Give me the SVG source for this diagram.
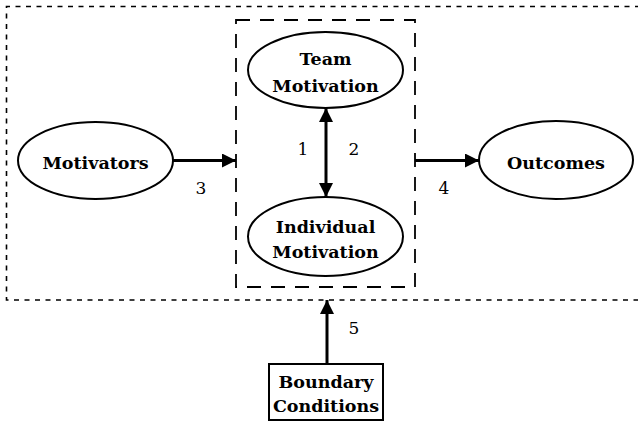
<svg xmlns="http://www.w3.org/2000/svg" width="638" height="422" viewBox="0 0 638 422">
<style>
.node{fill:#fff;stroke:#000;stroke-width:2}
.lbl{font-family:"DejaVu Serif","Liberation Serif",serif;font-weight:bold;font-size:17.5px;text-anchor:middle;fill:#000}
.num{font-family:"DejaVu Serif","Liberation Serif",serif;font-size:17px;text-anchor:middle;fill:#000}
.edge{stroke:#000;stroke-width:3;fill:none}
</style>
<defs>
<marker id="ah" viewBox="0 0 10 10" refX="10" refY="5" markerWidth="14" markerHeight="14" markerUnits="userSpaceOnUse" orient="auto-start-reverse">
<path d="M0,0 L10,5 L0,10 Z" fill="#000"/>
</marker>
</defs>
<rect width="638" height="422" fill="#fff"/>
<g id="boundaries">
<path d="M640,6.5 H6.5 V300 H640" fill="none" stroke="#000" stroke-width="1.6" stroke-dasharray="5 5.5"/>
<rect x="236" y="20" width="179" height="267" fill="none" stroke="#000" stroke-width="1.8" stroke-dasharray="14 10"/>
</g>
<g id="connectors">
<line class="edge" x1="173" y1="160.5" x2="236" y2="160.5" marker-end="url(#ah)"/>
<line class="edge" x1="415" y1="160.5" x2="479" y2="160.5" marker-end="url(#ah)"/>
<line class="edge" x1="326" y1="108" x2="326" y2="197" marker-start="url(#ah)" marker-end="url(#ah)"/>
<line class="edge" x1="327" y1="364" x2="327" y2="300" marker-end="url(#ah)"/>
</g>
<g id="team">
<ellipse class="node" cx="325.5" cy="70" rx="77.5" ry="38"/>
<text class="lbl" x="325.5" y="65">Team</text>
<text class="lbl" x="325.5" y="92">Motivation</text>
</g>
<g id="individual">
<ellipse class="node" cx="325.5" cy="236.5" rx="77.5" ry="39.5"/>
<text class="lbl" x="325.5" y="233">Individual</text>
<text class="lbl" x="325.5" y="258">Motivation</text>
</g>
<g id="motivators">
<ellipse class="node" cx="95.5" cy="160.5" rx="77.5" ry="38.5"/>
<text class="lbl" x="95.5" y="169">Motivators</text>
</g>
<g id="outcomes">
<ellipse class="node" cx="556" cy="160" rx="77" ry="39"/>
<text class="lbl" x="556" y="169">Outcomes</text>
</g>
<g id="boundary-conditions">
<rect class="node" x="269" y="364" width="114" height="56"/>
<text class="lbl" x="326" y="388">Boundary</text>
<text class="lbl" x="326" y="412">Conditions</text>
</g>
<g id="labels">
<text class="num" x="303" y="155">1</text>
<text class="num" x="354" y="155">2</text>
<text class="num" x="201" y="194">3</text>
<text class="num" x="444" y="194">4</text>
<text class="num" x="354" y="334">5</text>
</g>
</svg>
